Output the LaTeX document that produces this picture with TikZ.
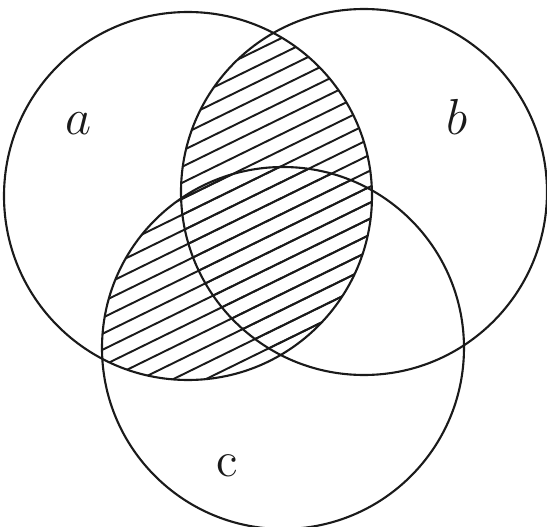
\documentclass[tikz,border=0pt]{standalone}
\usepackage{tikz}
\usetikzlibrary{positioning, calc}
\usepackage{xcolor}
\definecolor{ink}{HTML}{1A1A1A}

\begin{document}
\begin{tikzpicture}[
    x=0.01cm, y=-0.01cm,
    every node/.style={font=\fontsize{14}{16}\selectfont, text=ink},
    setline/.style={draw=ink, line width=0.6pt},
    hatch/.style={draw=ink, line width=0.55pt},
    lbl/.style={inner sep=0pt}
]
    \useasboundingbox (0,0) rectangle (547,527);

    % centres of the three sets
    \coordinate (ca) at (188,196);
    \coordinate (cb) at (364,192);
    \coordinate (cc) at (283,348);

    % hatching of a and b
    \begin{scope}
        \clip (ca) circle (184);
        \clip (cb) circle (183);
        \foreach \k in {0,16,...,880}
            \draw[hatch] (0,\k) -- (547,{\k-268});
    \end{scope}
    % hatching of a and c
    \begin{scope}
        \clip (ca) circle (184);
        \clip (cc) circle (181);
        \foreach \k in {0,16,...,880}
            \draw[hatch] (0,\k) -- (547,{\k-268});
    \end{scope}

    % the sets
    \draw[setline] (ca) circle (184);
    \draw[setline] (cb) circle (183);
    \draw[setline] (cc) circle (181);

    % labels
    \node[lbl] (la) at (79,124)  {$a$};
    \node[lbl] (lb) at (457,117) {$b$};
    \node[lbl] (lc) at (227,466) {c};
\end{tikzpicture}
\end{document}
